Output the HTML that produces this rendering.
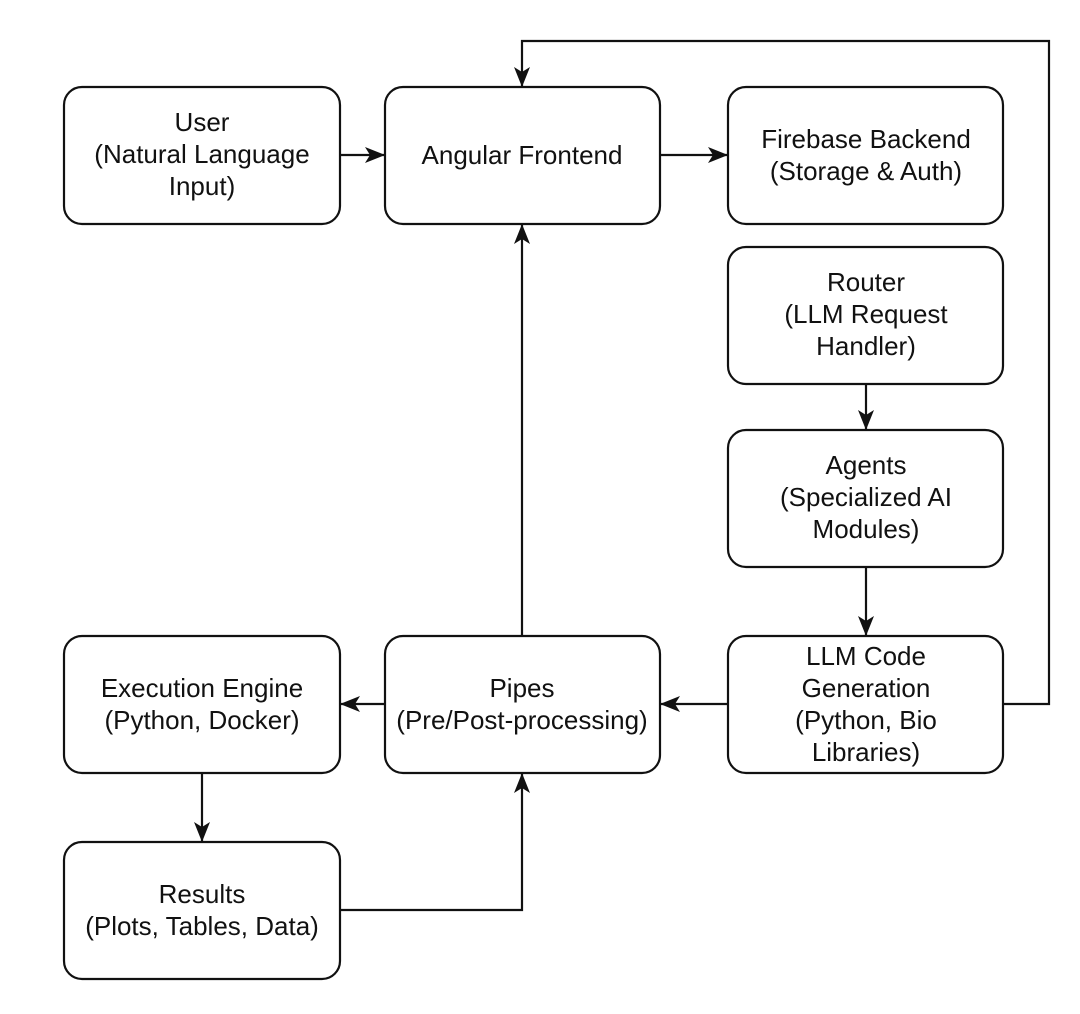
<!DOCTYPE html>
<html><head><meta charset="utf-8"><style>
html,body{margin:0;padding:0;background:#fff;}
svg{display:block;}
text{font-family:"Liberation Sans",Arial,sans-serif;font-size:26px;fill:#111;text-anchor:middle;}
</style></head><body>
<svg width="1080" height="1014" viewBox="0 0 1080 1014" xmlns="http://www.w3.org/2000/svg">
<defs>
<marker id="a" viewBox="0 0 20 16" refX="19" refY="8" markerWidth="20" markerHeight="16" markerUnits="userSpaceOnUse" orient="auto">
<path d="M0,0 L20,8 L0,16 L5,8 Z" fill="#111"/>
</marker>
</defs>
<g fill="#fff" stroke="#111" stroke-width="2.2">
<rect x="64" y="87" width="276" height="137" rx="18"/>
<rect x="385" y="87" width="275" height="137" rx="18"/>
<rect x="728" y="87" width="275" height="137" rx="18"/>
<rect x="728" y="247" width="275" height="137" rx="18"/>
<rect x="728" y="430" width="275" height="137" rx="18"/>
<rect x="728" y="636" width="275" height="137" rx="18"/>
<rect x="385" y="636" width="275" height="137" rx="18"/>
<rect x="64" y="636" width="276" height="137" rx="18"/>
<rect x="64" y="842" width="276" height="137" rx="18"/>
</g>
<g fill="none" stroke="#111" stroke-width="2.2" marker-end="url(#a)">
<path d="M340,155 H384"/>
<path d="M660,155 H727"/>
<path d="M866,384 V429"/>
<path d="M866,567 V635"/>
<path d="M728,704 H661"/>
<path d="M385,704 H341"/>
<path d="M202,773 V841"/>
<path d="M340,910 H522 V774"/>
<path d="M522,636 V225"/>
<path d="M1003,704 H1049 V41 H522 V86"/>
</g>
<text x="202" y="131">User</text>
<text x="202" y="163">(Natural Language</text>
<text x="202" y="195">Input)</text>
<text x="522" y="164">Angular Frontend</text>
<text x="866" y="148">Firebase Backend</text>
<text x="866" y="180">(Storage &amp; Auth)</text>
<text x="866" y="291">Router</text>
<text x="866" y="323">(LLM Request</text>
<text x="866" y="355">Handler)</text>
<text x="866" y="474">Agents</text>
<text x="866" y="506">(Specialized AI</text>
<text x="866" y="538">Modules)</text>
<text x="866" y="665">LLM Code</text>
<text x="866" y="697">Generation</text>
<text x="866" y="729">(Python, Bio</text>
<text x="866" y="761">Libraries)</text>
<text x="522" y="697">Pipes</text>
<text x="522" y="729">(Pre/Post-processing)</text>
<text x="202" y="697">Execution Engine</text>
<text x="202" y="729">(Python, Docker)</text>
<text x="202" y="903">Results</text>
<text x="202" y="935">(Plots, Tables, Data)</text>
</svg>
</body></html>
